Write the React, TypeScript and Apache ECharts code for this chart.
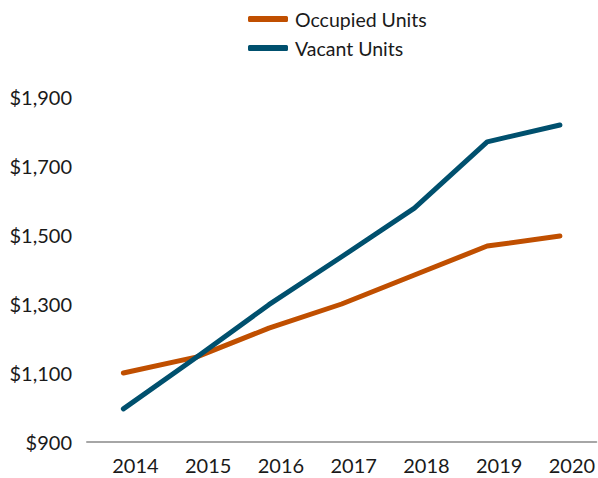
import React, { useEffect, useRef } from "react";
import * as echarts from "echarts";

const years = ["2014", "2015", "2016", "2017", "2018", "2019", "2020"];
const occupied = [1100, 1146, 1230, 1300, 1384, 1468, 1497];
const vacant = [996, 1145, 1298, 1437, 1578, 1770, 1819];
const seriesNames = ["Occupied Units", "Vacant Units"];
const colors = ["#C04F00", "#00506E"];

export default function App() {
  const ref = useRef<HTMLDivElement>(null);
  useEffect(() => {
    if (!ref.current) return;
    const chart = echarts.init(ref.current, undefined, { renderer: "svg" });
    const font = "Lato, 'Open Sans', sans-serif";
    chart.setOption({
      animation: false,
      backgroundColor: "#ffffff",
      grid: { left: 87, right: 0, top: 97, bottom: 36, containLabel: false },
      legend: {
        orient: "vertical",
        left: 243,
        top: 4,
        itemWidth: 40,
        itemHeight: 6,
        itemGap: 9,
        icon: "roundRect",
        textStyle: { fontFamily: font, fontSize: 19.5, color: "#1a1a1a", lineHeight: 20, padding: [0, 0, 0, 2] },
        data: seriesNames,
      },
      xAxis: {
        type: "category",
        data: years,
        boundaryGap: true,
        axisLine: { show: true, lineStyle: { color: "#A6A6A6", width: 2 } },
        axisTick: { show: false },
        axisLabel: {
          fontFamily: font,
          fontSize: 20,
          color: "#1a1a1a",
          margin: 13,
          padding: [0, 0, 0, 24],
        },
      },
      yAxis: {
        type: "value",
        min: 900,
        max: 1900,
        interval: 200,
        axisLine: { show: false },
        axisTick: { show: false },
        splitLine: { show: false },
        axisLabel: {
          fontFamily: font,
          fontSize: 20,
          color: "#1a1a1a",
          margin: 15,
          formatter: (v: number) => "$" + v.toLocaleString("en-US"),
        },
      },
      series: [
        {
          name: seriesNames[0],
          type: "line",
          data: occupied,
          symbol: "none",
          color: colors[0],
          lineStyle: { width: 5, color: colors[0], cap: "round", join: "round" },
        },
        {
          name: seriesNames[1],
          type: "line",
          data: vacant,
          symbol: "none",
          color: colors[1],
          lineStyle: { width: 5, color: colors[1], cap: "round", join: "round" },
        },
      ],
    });
    return () => chart.dispose();
  }, []);
  return (
    <div
      ref={ref}
      style={{ position: "fixed", left: 0, top: 0, width: 598, height: 478 }}
    />
  );
}
